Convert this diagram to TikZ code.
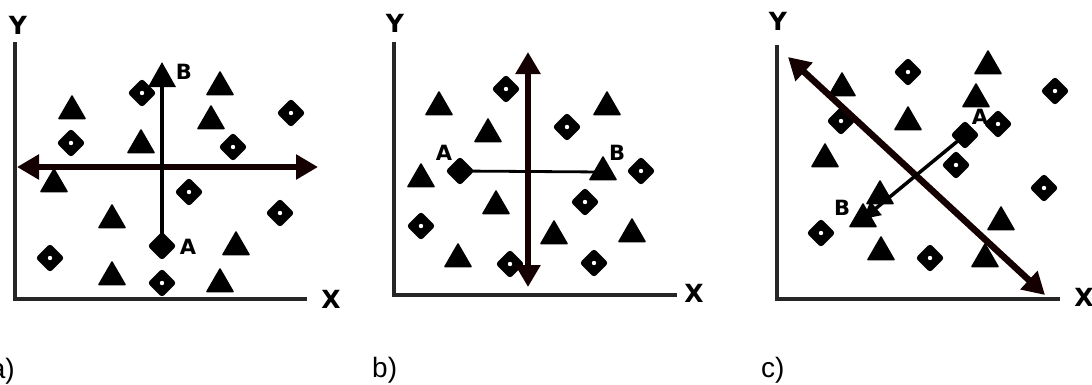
\documentclass[tikz,border=0pt]{standalone}
\usepackage{fontspec}
\setmainfont{Liberation Sans}
\newfontfamily\heavyfont{DejaVu Sans}
\usetikzlibrary{shapes.geometric,arrows.meta}
\begin{document}
\begin{tikzpicture}[x=1pt,y=-1pt,
  axisline/.style={line width=4.5pt,black!85},
  bigarrow/.style={line width=6pt,color=black!92!red,
     {Triangle[length=22pt,width=24pt]}-{Triangle[length=22pt,width=24pt]}},
  thinline/.style={line width=3.5pt,black},
  tri/.style={regular polygon,regular polygon sides=3,fill=black,draw=none,
     minimum size=33pt,inner sep=0pt,yshift=-4pt,rounded corners=1pt},
  dia/.style={diamond,fill=black,draw=none,minimum width=29pt,minimum height=29pt,
     inner sep=0pt,rounded corners=3pt,
     path picture={\fill[white] (path picture bounding box.center) circle (2.2pt);}},
  diaA/.style={diamond,fill=black,draw=none,minimum width=29pt,minimum height=29pt,
     inner sep=0pt,rounded corners=3pt},
  lab/.style={font=\heavyfont\fontsize{25}{25}\selectfont\bfseries,inner sep=0pt},
  ptlab/.style={font=\heavyfont\fontsize{21}{21}\selectfont\bfseries,inner sep=0pt},
  sub/.style={font=\fontsize{28}{28}\selectfont,inner sep=0pt}
]
\path[use as bounding box] (0,0) rectangle (1092,384);

% ================= panel a =================
\coordinate (aY) at (15,42);
\coordinate (aO) at (15,299);
\coordinate (aX) at (307,299);
\draw[axisline] (aY) -- (aO) -- (aX);
\node[lab] (aYl) at (18,25) {Y};
\node[lab] (aXl) at (331,299) {X};

\node[tri] (at1) at (72,107) {};
\node[tri] (at2) at (220,83) {};
\node[tri] (at3) at (211,117) {};
\node[tri] (at4) at (141,141) {};
\node[tri] (at5) at (54,180) {};
\node[tri] (at6) at (112,216) {};
\node[tri] (at7) at (236,243) {};
\node[tri] (at8) at (112,273) {};
\node[tri] (at9) at (220,280) {};

\node[dia] (ad1) at (142,93) {};
\node[dia] (ad2) at (291,113) {};
\node[dia] (ad3) at (71,143) {};
\node[dia] (ad4) at (233,147) {};
\node[dia] (ad5) at (189,192) {};
\node[dia] (ad6) at (280,213) {};
\node[dia] (ad7) at (50,258) {};
\node[dia] (ad8) at (162,283) {};
\node[diaA] (aA) at (162,246) {};

\coordinate (aL) at (17,167);
\coordinate (aR) at (318,167);
\coordinate (aB) at (162,62);
\draw[bigarrow] (aL) -- (aR);
\draw[thinline,-{Triangle[length=25pt,width=27pt]}] (aA.center) -- (aB);
\node[ptlab] (aBl) at (184,72) {B};
\node[ptlab] (aAl) at (188,247) {A};
\node[sub,anchor=base east] (asub) at (15,378) {a)};

% ================= panel b =================
\coordinate (bY) at (394,42);
\coordinate (bO) at (394,295);
\coordinate (bX) at (677,295);
\draw[axisline] (bY) -- (bO) -- (bX);
\node[lab] (bYl) at (395,23) {Y};
\node[lab] (bXl) at (694,293) {X};

\node[tri] (bt1) at (439,103) {};
\node[tri] (bt2) at (488,130) {};
\node[tri] (bt3) at (607,103) {};
\node[tri] (bt4) at (421,175) {};
\node[tri] (bt5) at (496,202) {};
\node[tri] (bt6) at (554,232) {};
\node[tri] (bt7) at (632,230) {};
\node[tri] (bt8) at (458,255) {};
\node[tri] (bB) at (603,168) {};

\node[dia] (bd1) at (506,89) {};
\node[dia] (bd2) at (567,127) {};
\node[dia] (bd3) at (641,171) {};
\node[dia] (bd4) at (585,202) {};
\node[dia] (bd5) at (421,226) {};
\node[dia] (bd6) at (510,264) {};
\node[dia] (bd7) at (594,263) {};
\node[diaA] (bA) at (460,171) {};

\coordinate (bT) at (528,52);
\coordinate (bBo) at (528,287);
\draw[line width=2.8pt] (bA.center) -- (bB.center);
\draw[bigarrow] (bT) -- (bBo);
\node[ptlab] (bAl) at (444,153) {A};
\node[ptlab] (bBl) at (617,153) {B};
\node[sub,anchor=base west] (bsub) at (372,377) {b)};

% ================= panel c =================
\coordinate (cY) at (777,45);
\coordinate (cO) at (777,299);
\coordinate (cX) at (1060,299);
\draw[axisline] (cY) -- (cO) -- (cX);
\node[lab] (cYl) at (778,21) {Y};
\node[lab] (cXl) at (1084,297) {X};

\node[tri] (ct1) at (988,62) {};
\node[tri] (ct2) at (842,84) {};
\node[tri] (ct3) at (976,95) {};
\node[tri] (ct4) at (908,118) {};
\node[tri] (ct5) at (825,155) {};
\node[tri] (ct6) at (880,192) {};
\node[tri] (cB) at (863,215) {};
\node[tri] (ct7) at (1001,218) {};
\node[tri] (ct8) at (881,248) {};
\node[tri] (ct9) at (985,255) {};

\node[dia] (cd1) at (908,72) {};
\node[dia] (cd2) at (1055,91) {};
\node[dia] (cd3) at (841,121) {};
\node[dia] (cd4) at (998,124) {};
\node[dia] (cd5) at (956,165) {};
\node[dia] (cd6) at (1044,188) {};
\node[dia] (cd7) at (821,233) {};
\node[dia] (cd8) at (930,258) {};
\node[diaA] (cA) at (965,135) {};

\coordinate (cTL) at (788,57);
\coordinate (cBR) at (1045,295);
\draw[bigarrow,line width=6.5pt] (cTL) -- (cBR);
\draw[thinline,-{Triangle[length=17pt,width=17pt]}] (cA.center) -- (cB.center);
\node[ptlab] (cAl) at (980,117) {A};
\node[ptlab] (cBl) at (842,208) {B};
\node[sub,anchor=base west] (csub) at (761,377) {c)};
\end{tikzpicture}
\end{document}
